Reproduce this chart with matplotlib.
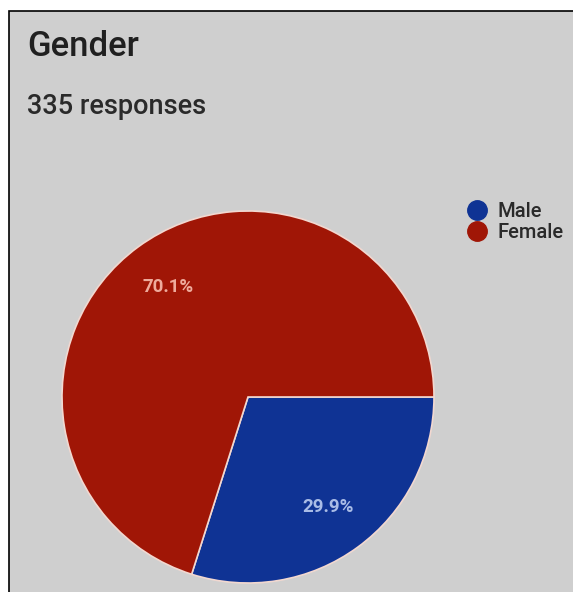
import matplotlib.pyplot as plt
from matplotlib.patches import Rectangle
from matplotlib.lines import Line2D

# data
labels = ['Male', 'Female']
shares = [29.9, 70.1]
colors = ['#0f3394', '#a01606']
pct_colors = ['#a9bce6', '#eeab9c']

title = 'Gender'
subtitle = '335 responses'

W, H = 573, 592
fig = plt.figure(figsize=(W / 100, H / 100), dpi=100)
fig.patch.set_facecolor('white')

# grey card with black border (top/left visible, right/bottom cropped)
card = Rectangle((9 / W, -0.05), 1.2, 1 - 11 / H + 0.05, transform=fig.transFigure,
                 facecolor='#cfcfcf', edgecolor='black', linewidth=1.2, zorder=-5)
fig.patches.append(card)

fig.text(27 / W, 1 - 46 / H, title, fontsize=25, family='Roboto', fontweight='medium',
         color='#202020', va='center', ha='left')
fig.text(27 / W, 1 - 106 / H, subtitle, fontsize=19.5, family='Roboto', fontweight='medium',
         color='#2a2a2a', va='center', ha='left')

# pie: centre ~ (248, 397) px, radius ~186 px
cx, cy, r = 248, 397, 186
ax = fig.add_axes([(cx - r) / W, (H - cy - r) / H, 2 * r / W, 2 * r / H])
ax.set_zorder(1)
wedges, texts, autotexts = ax.pie(shares, colors=colors, startangle=0, counterclock=False,
                                  autopct='%1.1f%%', pctdistance=0.73,
                                  wedgeprops=dict(edgecolor='#f2d8d0', linewidth=1.2))
for w in wedges:
    w.set_clip_on(False)
for t, c in zip(autotexts, pct_colors):
    t.set_color(c)
    t.set_fontsize(13.5)
    t.set_fontweight('bold')
    t.set_family('Roboto')
ax.set_xlim(-1, 1)
ax.set_ylim(-1, 1)
ax.set_aspect('equal')
ax.axis('off')

handles = [Line2D([], [], marker='o', linestyle='none', markersize=14,
                  markerfacecolor=c, markeredgecolor=c) for c in colors]
fig.legend(handles, labels, loc='upper left', bbox_to_anchor=(439 / W, 1 - 184 / H),
           frameon=False, handletextpad=0.0, labelspacing=0.1,
           prop={'family': 'Roboto', 'weight': 'medium', 'size': 14.5}, labelcolor='#2a2a2a')

fig.savefig('out.png', dpi=100)
